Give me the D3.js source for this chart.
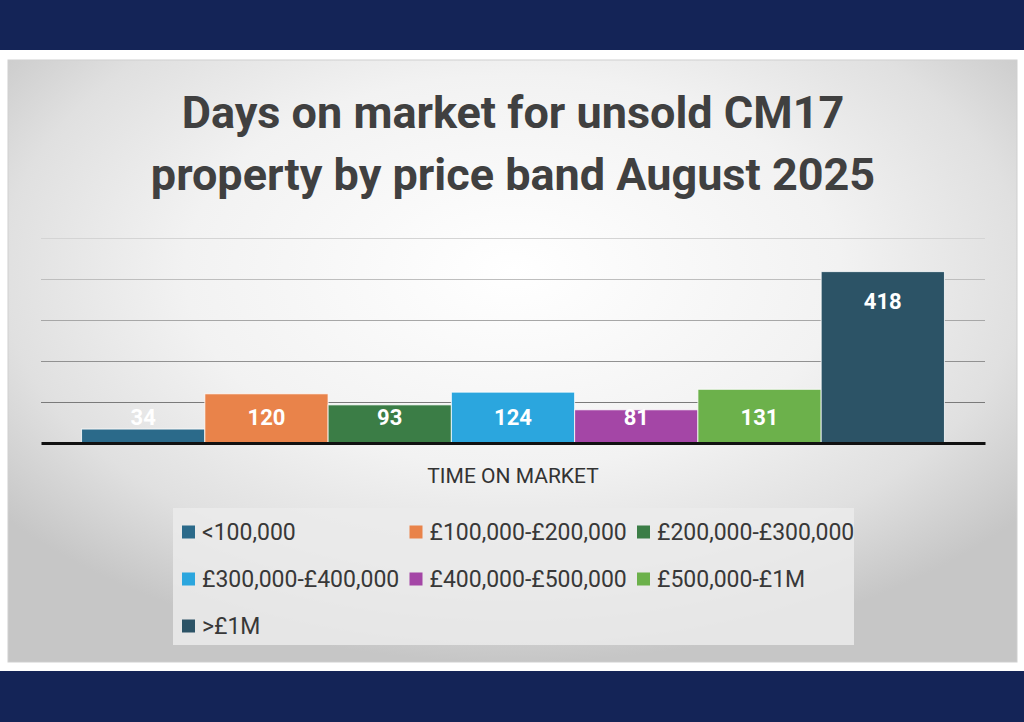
<!DOCTYPE html>
<meta charset="utf-8">
<style>
body { margin: 0; background: #fff; }
svg { display: block; font-family: Roboto, "Liberation Sans", sans-serif; }
.grid line { shape-rendering: crispEdges; }
</style>
<body>
<div class="canvas"></div>
</body>
<script src="https://cdn.jsdelivr.net/npm/d3@7"></script>
<script>

// data
var titleLines = ["Days on market for unsold CM17", "property by price band August 2025"];
var group = ["TIME ON MARKET"];
var bands = ["<100,000", "£100,000-£200,000", "£200,000-£300,000",
             "£300,000-£400,000", "£400,000-£500,000", "£500,000-£1M", ">£1M"];
var days = [34, 120, 93, 124, 81, 131, 418];
var yTicks = [0, 100, 200, 300, 400, 500];

var palette = ["#2b6a8a", "#e9834a", "#3b7d46", "#2ba6de", "#a446a6", "#6cb14b", "#2c5366"];

var w = 1024,
    h = 722;

var svg = d3.select(".canvas").append("svg")
    .attr("width", w)
    .attr("height", h);

var defs = svg.append("defs");
var grad = defs.append("radialGradient")
    .attr("id", "panelGrad")
    .attr("cx", "50%").attr("cy", "35%")
    .attr("r", "65%");
grad.append("stop").attr("offset", "0%").attr("stop-color", "#ffffff");
grad.append("stop").attr("offset", "50%").attr("stop-color", "#f2f2f2");
grad.append("stop").attr("offset", "78%").attr("stop-color", "#e0e0e0");
grad.append("stop").attr("offset", "100%").attr("stop-color", "#c6c6c6");

// navy bands top and bottom
svg.append("rect").attr("x", 0).attr("y", 0).attr("width", w).attr("height", 50).attr("fill", "#142457");
svg.append("rect").attr("x", 0).attr("y", 671).attr("width", w).attr("height", h - 671).attr("fill", "#142457");

// chart panel
svg.append("rect")
    .attr("x", 8).attr("y", 60)
    .attr("width", 1009).attr("height", 602)
    .attr("fill", "url(#panelGrad)")
    .attr("stroke", "#cfcfcf")
    .attr("stroke-width", 1);

// title
svg.append("g").selectAll("text")
    .data(titleLines)
  .enter().append("text")
    .attr("x", 513)
    .attr("y", function(d, i) { return 128 + i * 62; })
    .attr("text-anchor", "middle")
    .attr("font-size", 45)
    .attr("font-weight", 700)
    .attr("fill", "#404040")
    .text(function(d) { return d; });

// scales
var x0 = d3.scaleBand()
    .domain(group)
    .range([41, 985])
    .paddingInner(0)
    .paddingOuter(0.047);

var x1 = d3.scaleBand()
    .domain(bands)
    .range([0, x0.bandwidth()]);

var y = d3.scaleLinear()
    .domain([0, 500])
    .range([443, 238]);

var gridShade = d3.scaleLinear()
    .domain([100, 500])
    .range(["#7a7a7a", "#d4d4d4"]);

// gridlines
var grid = svg.append("g")
    .attr("class", "grid")
    .attr("transform", "translate(41,0)")
    .call(d3.axisLeft(y).tickValues(yTicks).tickSize(-944).tickFormat(""));
grid.select(".domain").remove();
grid.selectAll(".tick line")
    .attr("stroke", function(d) { return gridShade(d); })
    .attr("stroke-width", 1.2);
grid.selectAll(".tick").filter(function(d) { return d === 0; }).remove();

// bars
var g = svg.append("g")
    .attr("transform", "translate(" + x0(group[0]) + ",0)");

g.selectAll("rect")
    .data(days)
  .enter().append("rect")
    .attr("x", function(d, i) { return x1(bands[i]); })
    .attr("y", function(d) { return y(d); })
    .attr("width", x1.bandwidth())
    .attr("height", function(d) { return y(0) - y(d); })
    .attr("fill", function(d, i) { return palette[i]; })
    .attr("stroke", "#ffffff")
    .attr("stroke-opacity", 0.8)
    .attr("stroke-width", 1);

g.selectAll("text.val")
    .data(days)
  .enter().append("text")
    .attr("class", "val")
    .attr("x", function(d, i) { return x1(bands[i]) + x1.bandwidth() / 2; })
    .attr("y", function(d) { return Math.min(y(d) + 29, y(0) - 26); })
    .attr("dy", "0.36em")
    .attr("text-anchor", "middle")
    .attr("font-size", 22)
    .attr("font-weight", 700)
    .attr("fill", "#ffffff")
    .text(function(d) { return d; });

// x axis
var xAxis = svg.append("g")
    .attr("transform", "translate(0," + y(0) + ")")
    .call(d3.axisBottom(x0).tickSize(0).tickSizeOuter(0).tickFormat(""));
xAxis.select(".domain")
    .attr("stroke", "#111")
    .attr("stroke-width", 3);

svg.append("text")
    .attr("x", 513)
    .attr("y", 483)
    .attr("text-anchor", "middle")
    .attr("font-size", 21)
    .attr("fill", "#333")
    .text(group[0]);

// legend
svg.append("rect")
    .attr("x", 173).attr("y", 508)
    .attr("width", 681).attr("height", 137)
    .attr("fill", "#ebebeb")
    .attr("fill-opacity", 0.85);

var legend = svg.append("g").selectAll("g")
    .data(bands)
  .enter().append("g")
    .attr("transform", function(d, i) {
      return "translate(" + (182 + (i % 3) * 227.5) + "," + (532 + Math.floor(i / 3) * 47) + ")";
    });

legend.append("rect")
    .attr("x", 0).attr("y", -6.5)
    .attr("width", 13).attr("height", 13)
    .attr("fill", function(d, i) { return palette[i]; });

legend.append("text")
    .attr("x", 20)
    .attr("dy", "0.36em")
    .attr("font-size", 23)
    .attr("fill", "#383838")
    .text(function(d) { return d; });

</script>
